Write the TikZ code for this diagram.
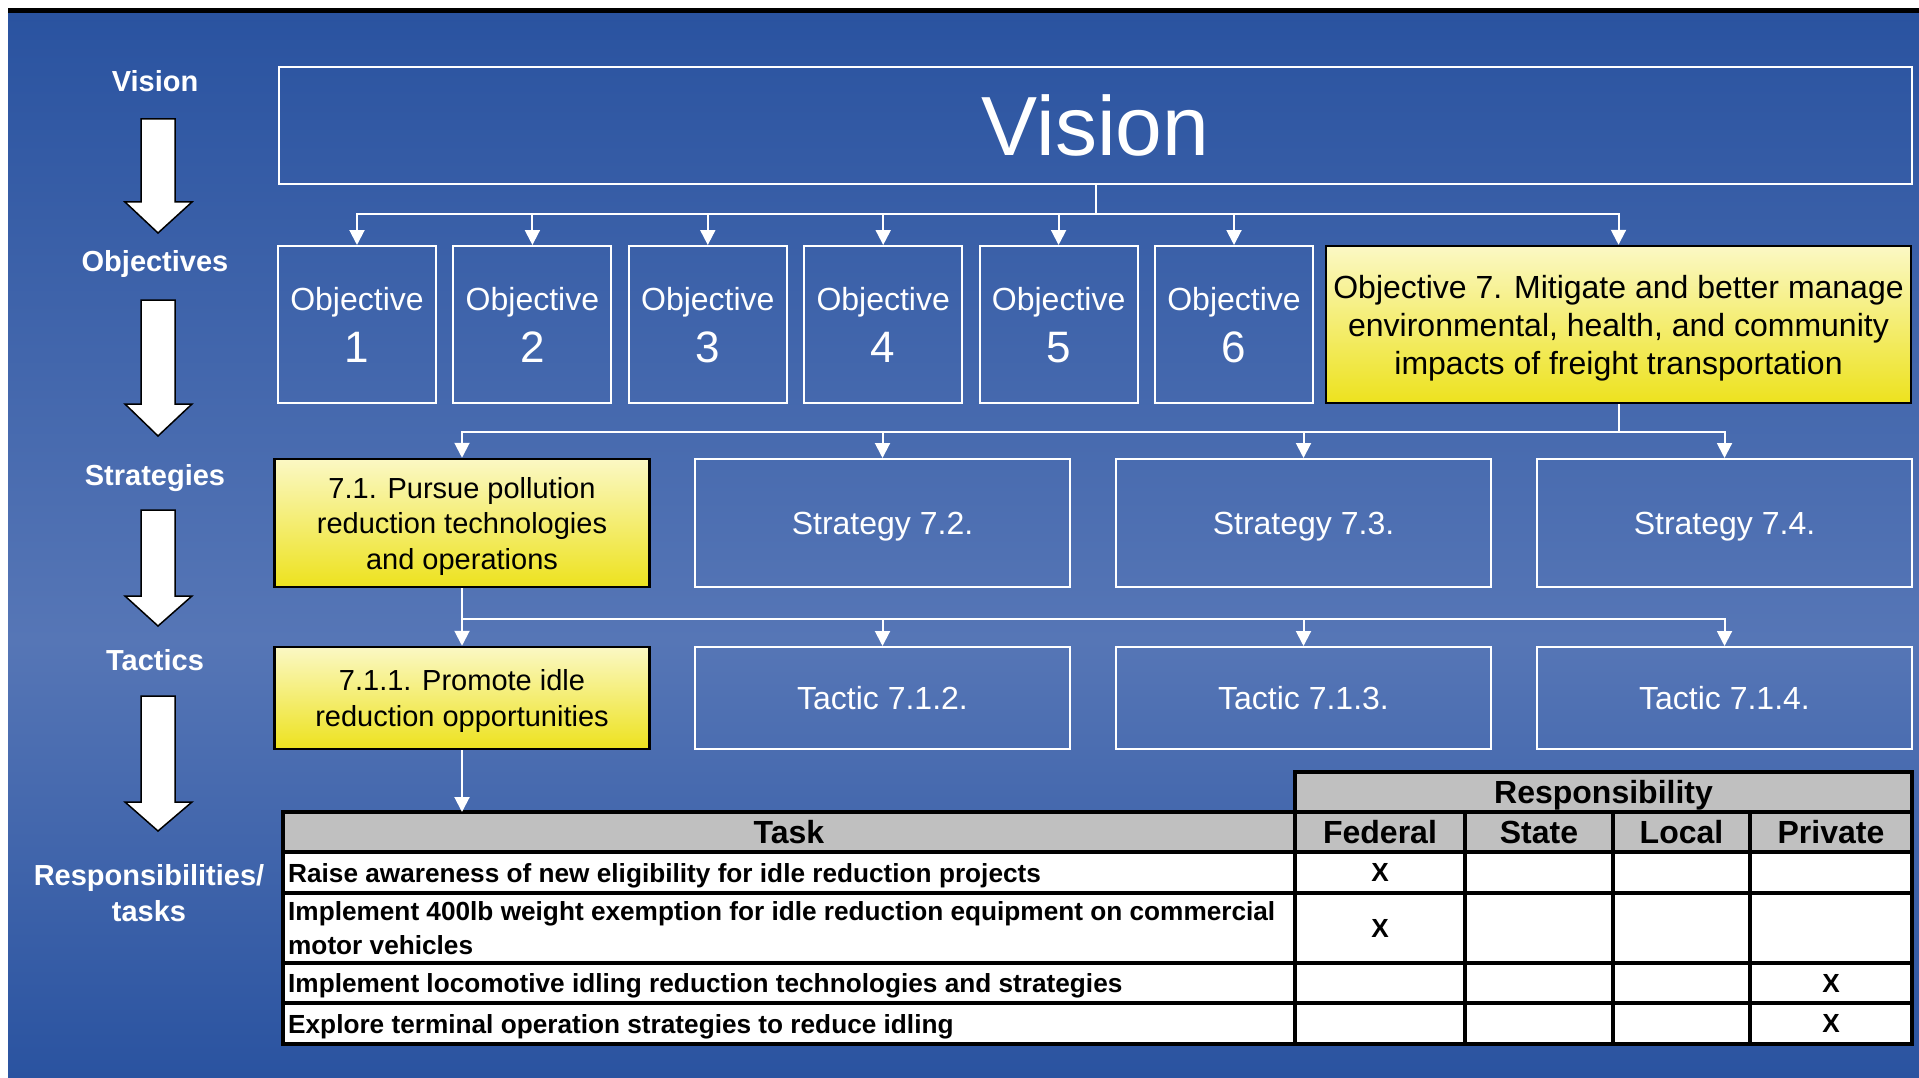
\documentclass[tikz,border=0pt]{standalone}
\usepackage{fontspec}
\setmainfont{Liberation Sans}
\usepackage{tikz}
\usetikzlibrary{arrows.meta}

\definecolor{bgdark}{RGB}{42,83,160}
\definecolor{bglight}{RGB}{86,118,182}
\definecolor{yeltop}{RGB}{251,248,196}
\definecolor{yelbot}{RGB}{237,226,30}
\definecolor{headgrey}{RGB}{192,192,192}
\newcommand{\fsz}[2]{\fontsize{#1}{#2}\selectfont}

\begin{document}
\begin{tikzpicture}[x=1pt, y=-1pt,
	bluebox/.style={draw=white, line width=2pt, text=white, align=center, inner sep=0pt, text depth=0pt},
	yellowbox/.style={draw=black, line width=2.5pt, top color=yeltop, bottom color=yelbot, align=center, inner sep=0pt, text depth=0pt},
	link/.style={draw=white, line width=2pt, -{Triangle[width=15pt,length=15pt]}},
	sidelabel/.style={text=white, font=\fsz{29}{36}\bfseries, align=center, inner sep=0pt, text depth=0pt},
	bigarrow/.style={draw=black, line width=1.5pt, fill=white, line join=miter},
	grid/.style={draw=black, line width=3.5pt},
	headtext/.style={font=\fsz{32}{38}\bfseries, inner sep=0pt, text depth=0pt},
	celltext/.style={font=\fsz{26.2}{34}\bfseries, inner sep=0pt, text depth=0pt}]
	% background
	\useasboundingbox (0,0) rectangle (1919,1078);
	\fill[white] (0,0) rectangle (1919,1078);
	\shade[top color=bgdark, bottom color=bglight] (8,13) rectangle (1919,640);
	\shade[top color=bglight, bottom color=bgdark] (8,640) rectangle (1919,1078);
	\fill[black] (8,8) rectangle (1919,13);
	% levels on the left
	\node[sidelabel] (lvision) at (155,81) {Vision};
	\node[sidelabel] (lobj) at (155,261) {Objectives};
	\node[sidelabel] (lstrat) at (155,475) {Strategies};
	\node[sidelabel] (ltact) at (155,660) {Tactics};
	\node[sidelabel] (lresp) at (149,893) {Responsibilities/\\tasks};
	\draw[bigarrow] (141,119) -- (175,119) -- (175,202) -- (192,202) -- (158,233) -- (125,202) -- (141,202) -- cycle;
	\draw[bigarrow] (141,300) -- (175,300) -- (175,404) -- (192,404) -- (158,436) -- (125,404) -- (141,404) -- cycle;
	\draw[bigarrow] (141,510) -- (175,510) -- (175,596) -- (192,596) -- (158,626) -- (125,596) -- (141,596) -- cycle;
	\draw[bigarrow] (141,696) -- (175,696) -- (175,802) -- (192,802) -- (158,831) -- (125,802) -- (141,802) -- cycle;
	% vision
	\node[bluebox, minimum width=1633pt, minimum height=117pt, font=\fsz{84}{84}] (vision) at (1095.5,125.5) {Vision};
	% objectives
	\node[bluebox, minimum width=158pt, minimum height=157pt, font=\fsz{32}{38}] (o1) at (357,324.5) {Objective\\[14pt]{\fsz{44}{44}1}};
	\node[bluebox, minimum width=158pt, minimum height=157pt, font=\fsz{32}{38}] (o2) at (532.4,324.5) {Objective\\[14pt]{\fsz{44}{44}2}};
	\node[bluebox, minimum width=158pt, minimum height=157pt, font=\fsz{32}{38}] (o3) at (707.8,324.5) {Objective\\[14pt]{\fsz{44}{44}3}};
	\node[bluebox, minimum width=158pt, minimum height=157pt, font=\fsz{32}{38}] (o4) at (883.2,324.5) {Objective\\[14pt]{\fsz{44}{44}4}};
	\node[bluebox, minimum width=158pt, minimum height=157pt, font=\fsz{32}{38}] (o5) at (1058.6,324.5) {Objective\\[14pt]{\fsz{44}{44}5}};
	\node[bluebox, minimum width=158pt, minimum height=157pt, font=\fsz{32}{38}] (o6) at (1234,324.5) {Objective\\[14pt]{\fsz{44}{44}6}};
	\node[yellowbox, minimum width=585pt, minimum height=157pt, font=\fsz{32}{38}, text depth=-3pt] (o7) at (1618.5,324.5) {Objective 7. Mitigate and better manage\\environmental, health, and community\\impacts of freight transportation};
	% strategies
	\node[yellowbox, minimum width=375pt, minimum height=128pt, font=\fsz{29}{35.5}] (s1) at (462,523) {7.1. Pursue pollution\\reduction technologies\\and operations};
	\node[bluebox, minimum width=375pt, minimum height=128pt, font=\fsz{32}{38}] (s2) at (882.5,523) {Strategy 7.2.};
	\node[bluebox, minimum width=375pt, minimum height=128pt, font=\fsz{32}{38}] (s3) at (1303.5,523) {Strategy 7.3.};
	\node[bluebox, minimum width=375pt, minimum height=128pt, font=\fsz{32}{38}] (s4) at (1724.5,523) {Strategy 7.4.};
	% tactics
	\node[yellowbox, minimum width=375pt, minimum height=102pt, font=\fsz{29}{35.5}] (t1) at (462,698) {7.1.1. Promote idle\\reduction opportunities};
	\node[bluebox, minimum width=375pt, minimum height=102pt, font=\fsz{32}{38}] (t2) at (882.5,698) {Tactic 7.1.2.};
	\node[bluebox, minimum width=375pt, minimum height=102pt, font=\fsz{32}{38}] (t3) at (1303.5,698) {Tactic 7.1.3.};
	\node[bluebox, minimum width=375pt, minimum height=102pt, font=\fsz{32}{38}] (t4) at (1724.5,698) {Tactic 7.1.4.};
	% connectors
	\draw[link] (vision.south) -- ++(0,29) -| (o1.north);
	\draw[link] (vision.south) -- ++(0,29) -| (o2.north);
	\draw[link] (vision.south) -- ++(0,29) -| (o3.north);
	\draw[link] (vision.south) -- ++(0,29) -| (o4.north);
	\draw[link] (vision.south) -- ++(0,29) -| (o5.north);
	\draw[link] (vision.south) -- ++(0,29) -| (o6.north);
	\draw[link] (vision.south) -- ++(0,29) -| (o7.north);
	\draw[link] (o7.south) -- ++(0,28) -| (s1.north);
	\draw[link] (o7.south) -- ++(0,28) -| (s2.north);
	\draw[link] (o7.south) -- ++(0,28) -| (s3.north);
	\draw[link] (o7.south) -- ++(0,28) -| (s4.north);
	\draw[link] (s1.south) -- ++(0,31) -| (t1.north);
	\draw[link] (s1.south) -- ++(0,31) -| (t2.north);
	\draw[link] (s1.south) -- ++(0,31) -| (t3.north);
	\draw[link] (s1.south) -- ++(0,31) -| (t4.north);
	% responsibility table
	\fill[headgrey] (1295,772) rectangle (1912,852);
	\fill[headgrey] (283,812) rectangle (1295,852);
	\fill[white] (283,852) rectangle (1912,1044);
	\draw[grid] (283,812) rectangle (1912,1044);
	\draw[grid] (1295,772) rectangle (1912,812);
	\draw[grid] (283,852) -- (1912,852);
	\draw[grid] (283,893) -- (1912,893);
	\draw[grid] (283,963) -- (1912,963);
	\draw[grid] (283,1003) -- (1912,1003);
	\draw[grid] (1295,812) -- (1295,1044);
	\draw[grid] (1465,812) -- (1465,1044);
	\draw[grid] (1613,812) -- (1613,1044);
	\draw[grid] (1750,812) -- (1750,1044);
	\coordinate (tabletop) at (462,812);
	\draw[link] (t1.south) -- (t1.south |- tabletop);
	\node[headtext] (resp) at (1603.5,792) {Responsibility};
	\node[headtext] (task) at (789,832) {Task};
	\node[headtext] (fed) at (1380,832) {Federal};
	\node[headtext] (state) at (1539,832) {State};
	\node[headtext] (local) at (1681.5,832) {Local};
	\node[headtext] (priv) at (1831,832) {Private};
	\node[celltext, anchor=west] (task1) at (288,872.5) {Raise awareness of new eligibility for idle reduction projects};
	\node[celltext, anchor=west, align=left] (task2) at (288,928) {Implement 400lb weight exemption for idle reduction equipment on commercial\\motor vehicles};
	\node[celltext, anchor=west] (task3) at (288,983) {Implement locomotive idling reduction technologies and strategies};
	\node[celltext, anchor=west] (task4) at (288,1023.5) {Explore terminal operation strategies to reduce idling};
	\node[celltext] (x1) at (1380,872.5) {X};
	\node[celltext] (x2) at (1380,928) {X};
	\node[celltext] (x3) at (1831,983) {X};
	\node[celltext] (x4) at (1831,1023.5) {X};
\end{tikzpicture}
\end{document}
